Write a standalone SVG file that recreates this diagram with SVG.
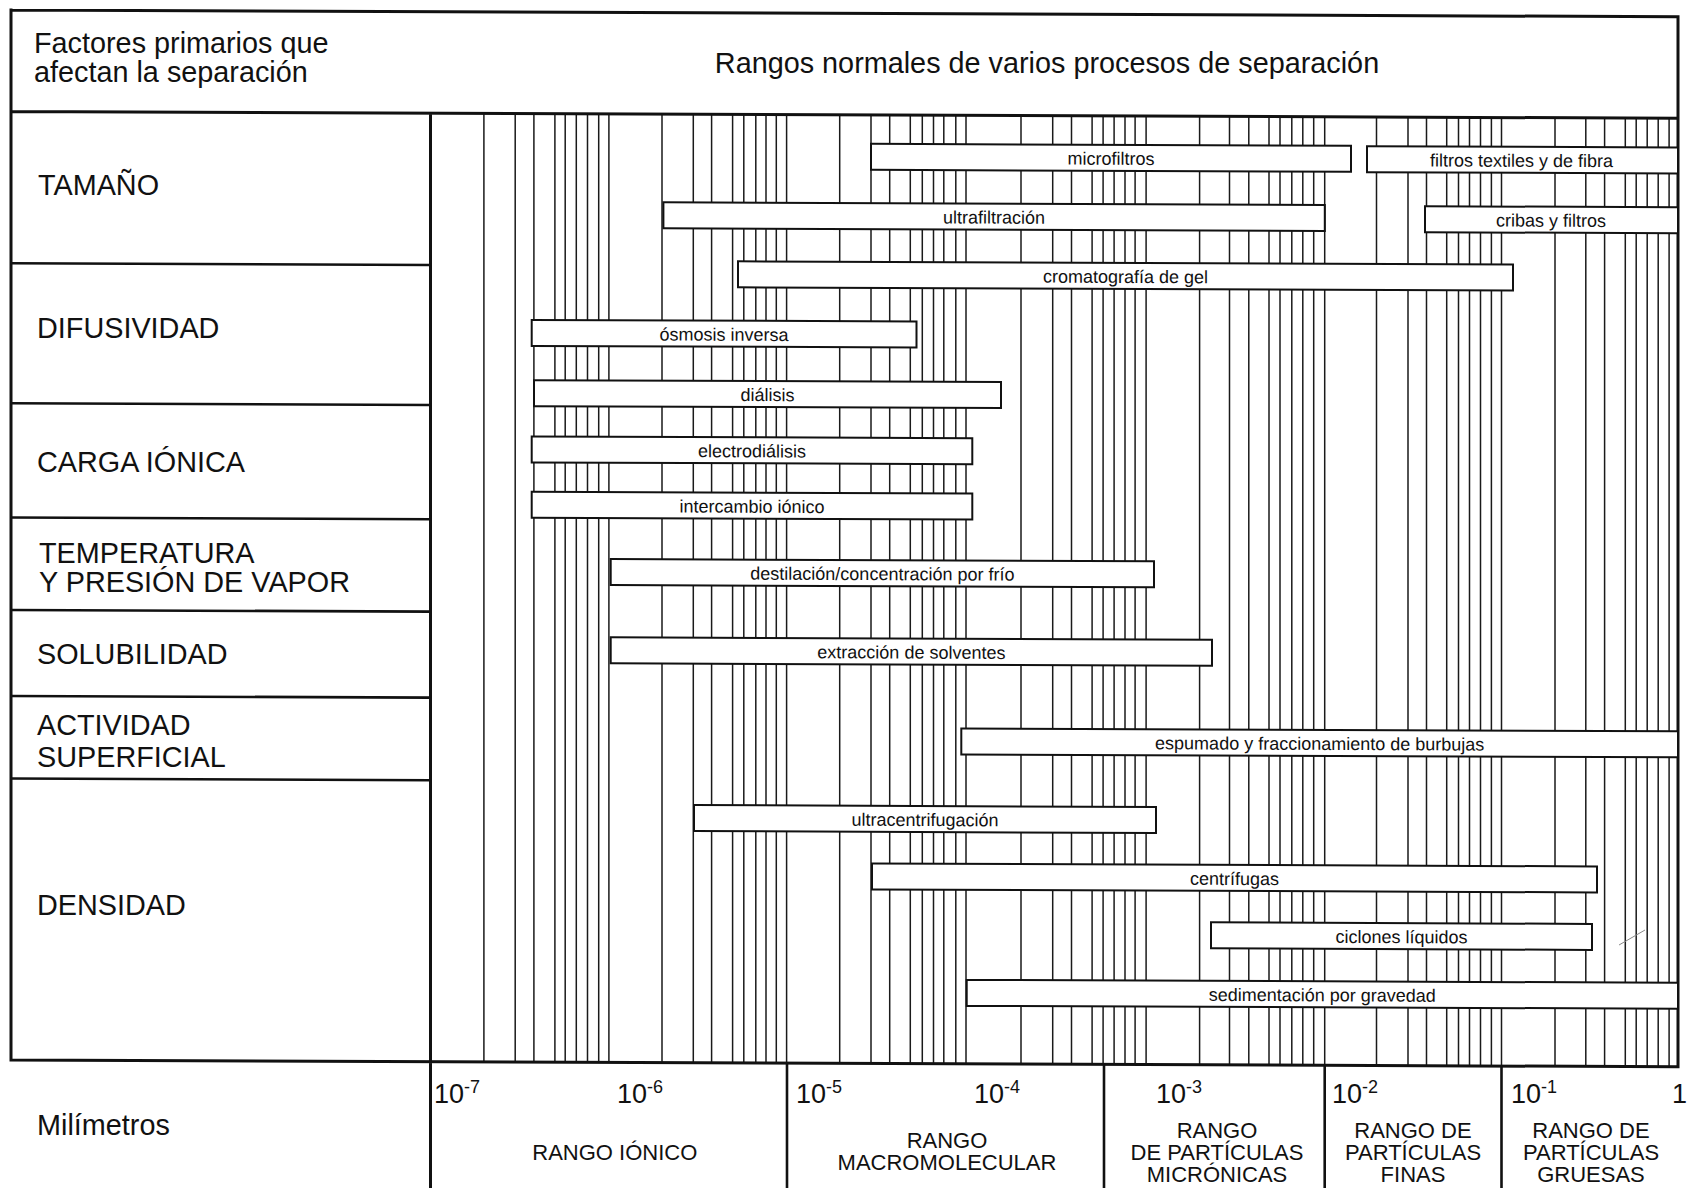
<svg xmlns="http://www.w3.org/2000/svg" width="1688" height="1188" viewBox="0 0 1688 1188">
<style>
  text { font-family: "Liberation Sans", Arial, sans-serif; fill: #111; }
  .frame { stroke: #111; stroke-width: 3; fill: none; stroke-linecap: square; }
  .sep { stroke: #111; stroke-width: 2.6; fill: none; }
  .grid { stroke: #1a1a1a; stroke-width: 1.5; fill: none; }
  .box rect { fill: #fff; stroke: #111; stroke-width: 2; }
  .box text { font-size: 18px; text-anchor: middle; }
  .lbl { font-size: 28.8px; }
  .ax { font-size: 27px; }
  .sup { font-size: 18px; }
  .rng { font-size: 22px; text-anchor: middle; }
</style>
<rect x="0" y="0" width="1688" height="1188" fill="#fff"/>

<g id="chart" transform="skewY(0.23)">
  <g id="grid">
    <path class="grid" d="M483.9 111.5V1060M515.2 111.5V1060M533.9 111.5V1060M554.9 111.5V1060M565.2 111.5V1060M576.3 111.5V1060M587.5 111.5V1060M598.7 111.5V1060M608.9 111.5V1060
    M662 111.5V1060M693.3 111.5V1060M711.6 111.5V1060M732.6 111.5V1060M743.8 111.5V1060M755.8 111.5V1060M766 111.5V1060M776.3 111.5V1060M786.6 111.5V1060
    M839.7 111.5V1060M871 111.5V1060M889.7 111.5V1060M910.3 111.5V1060M922.3 111.5V1060M933.5 111.5V1060M943.8 111.5V1060M955.8 111.5V1060M966 111.5V1060
    M1021 111.5V1060M1052.7 111.5V1060M1071.5 111.5V1060M1092.1 111.5V1060M1103.1 111.5V1060M1114.1 111.5V1060M1125 111.5V1060M1135.1 111.5V1060M1146.1 111.5V1060
    M1199.6 111.5V1060M1229.5 111.5V1060M1248.8 111.5V1060M1269 111.5V1060M1280 111.5V1060M1291.8 111.5V1060M1302.8 111.5V1060M1313.7 111.5V1060M1324.7 111.5V1060
    M1376.5 111.5V1060M1408 111.5V1060M1426.5 111.5V1060M1446.7 111.5V1060M1458.5 111.5V1060M1469.5 111.5V1060M1480.5 111.5V1060M1491.4 111.5V1060M1501.5 111.5V1060
    M1555 111.5V1060M1585.8 111.5V1060M1604.6 111.5V1060M1625.3 111.5V1060M1636.2 111.5V1060M1647.2 111.5V1060M1658.2 111.5V1060M1669.1 111.5V1060"/>
  </g>

  <g id="frame">
    <path class="frame" d="M11 10H1678V1060M11 10V1060M11 111.5H1678M11 1060H1678M430.5 111.5V1200"/>
    <path class="sep" d="M11 263.2H430.5M11 403.2H430.5M11 517.5H430.5M11 609.9H430.5M11 695.9H430.5M11 778.5H430.5"/>
    <path class="sep" d="M787 1060V1200M1104 1060V1200M1324.7 1060V1200M1501.5 1060V1200"/>
  </g>

  <g id="processes">
    <g class="box" id="microfiltros"><rect x="871" y="140.3" width="480" height="26"/><text x="1111" y="160.3">microfiltros</text></g>
    <g class="box" id="filtros-textiles"><rect x="1367" y="140.7" width="311" height="26"/><text x="1521.5" y="160.7">filtros textiles y de fibra</text></g>
    <g class="box" id="ultrafiltracion"><rect x="663.4" y="199.6" width="661.4" height="26"/><text x="994" y="219.6">ultrafiltración</text></g>
    <g class="box" id="cribas"><rect x="1425" y="200.5" width="253" height="26"/><text x="1551" y="220.5">cribas y filtros</text></g>
    <g class="box" id="cromatografia"><rect x="738" y="258.4" width="775" height="26"/><text x="1125.5" y="278.4">cromatografía de gel</text></g>
    <g class="box" id="osmosis"><rect x="531.7" y="317.8" width="384.8" height="26"/><text x="724" y="337.8">ósmosis inversa</text></g>
    <g class="box" id="dialisis"><rect x="534" y="378" width="467" height="26"/><text x="767.5" y="398">diálisis</text></g>
    <g class="box" id="electrodialisis"><rect x="531.7" y="434.3" width="440.6" height="26"/><text x="752" y="454.3">electrodiálisis</text></g>
    <g class="box" id="intercambio"><rect x="531.7" y="489.7" width="440.6" height="26"/><text x="752" y="509.7">intercambio iónico</text></g>
    <g class="box" id="destilacion"><rect x="610.7" y="556.6" width="543.3" height="26"/><text x="882.4" y="576.6">destilación/concentración por frío</text></g>
    <g class="box" id="extraccion"><rect x="610.7" y="634.9" width="601.3" height="26"/><text x="911.4" y="654.9">extracción de solventes</text></g>
    <g class="box" id="espumado"><rect x="961.3" y="724.6" width="716.7" height="26"/><text x="1319.7" y="744.6">espumado y fraccionamiento de burbujas</text></g>
    <g class="box" id="ultracentrifugacion"><rect x="694" y="802.3" width="462" height="26"/><text x="925" y="822.3">ultracentrifugación</text></g>
    <g class="box" id="centrifugas"><rect x="872" y="860" width="725" height="26"/><text x="1234.5" y="880">centrífugas</text></g>
    <g class="box" id="ciclones"><rect x="1211" y="917.5" width="381" height="26"/><text x="1401.5" y="937.5">ciclones líquidos</text></g>
    <g class="box" id="sedimentacion"><rect x="966.7" y="976" width="711.3" height="26"/><text x="1322.3" y="996">sedimentación por gravedad</text></g>
  </g>
</g>

<g id="header">
  <text class="lbl" x="34" y="52.6" font-size="29.5">Factores primarios que</text>
  <text class="lbl" x="34" y="82.4" font-size="29.5">afectan la separación</text>
  <text class="lbl" x="1047" y="73.3" text-anchor="middle">Rangos normales de varios procesos de separación</text>
</g>

<g id="factors">
  <text class="lbl" x="38" y="195">TAMAÑO</text>
  <text class="lbl" x="37" y="338.3">DIFUSIVIDAD</text>
  <text class="lbl" x="37" y="471.7">CARGA IÓNICA</text>
  <text class="lbl" x="39" y="562.7">TEMPERATURA</text>
  <text class="lbl" x="39" y="591.7">Y PRESIÓN DE VAPOR</text>
  <text class="lbl" x="37" y="664">SOLUBILIDAD</text>
  <text class="lbl" x="37" y="735">ACTIVIDAD</text>
  <text class="lbl" x="37" y="766.7">SUPERFICIAL</text>
  <text class="lbl" x="37" y="915">DENSIDAD</text>
</g>

<g id="axis">
  <text class="lbl" x="37" y="1135">Milímetros</text>
  <text class="ax" x="434" y="1103">10<tspan class="sup" dy="-10">-7</tspan></text>
  <text class="ax" x="617" y="1103">10<tspan class="sup" dy="-10">-6</tspan></text>
  <text class="ax" x="796" y="1103">10<tspan class="sup" dy="-10">-5</tspan></text>
  <text class="ax" x="974" y="1103">10<tspan class="sup" dy="-10">-4</tspan></text>
  <text class="ax" x="1156" y="1103">10<tspan class="sup" dy="-10">-3</tspan></text>
  <text class="ax" x="1332" y="1103">10<tspan class="sup" dy="-10">-2</tspan></text>
  <text class="ax" x="1511" y="1103">10<tspan class="sup" dy="-10">-1</tspan></text>
  <text class="ax" x="1672" y="1103">1</text>

  <text class="rng" x="614.8" y="1160">RANGO IÓNICO</text>
  <text class="rng" x="947" y="1147.6">RANGO</text>
  <text class="rng" x="947" y="1169.8">MACROMOLECULAR</text>
  <text class="rng" x="1217" y="1138.3">RANGO</text>
  <text class="rng" x="1217" y="1160">DE PARTÍCULAS</text>
  <text class="rng" x="1217" y="1181.7">MICRÓNICAS</text>
  <text class="rng" x="1413" y="1138.3">RANGO DE</text>
  <text class="rng" x="1413" y="1160">PARTÍCULAS</text>
  <text class="rng" x="1413" y="1181.7">FINAS</text>
  <text class="rng" x="1591" y="1138.3">RANGO DE</text>
  <text class="rng" x="1591" y="1160">PARTÍCULAS</text>
  <text class="rng" x="1591" y="1181.7">GRUESAS</text>
</g>

<path d="M1619 945L1645 930" stroke="#888" stroke-width="1" fill="none"/>
</svg>
